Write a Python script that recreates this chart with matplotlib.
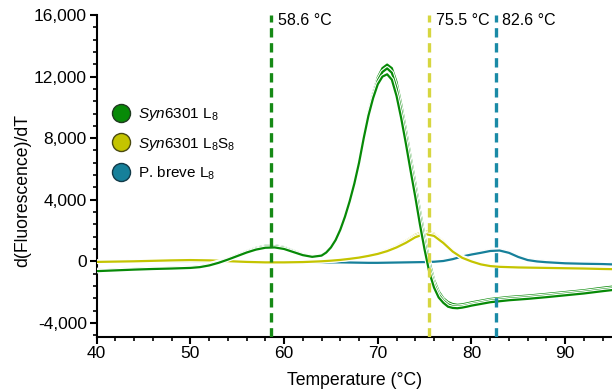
import matplotlib
matplotlib.use("Agg")
import matplotlib.pyplot as plt
import matplotlib.patheffects as pe
from matplotlib.lines import Line2D
from matplotlib.ticker import FuncFormatter, MultipleLocator

plt.rcParams['font.family'] = ['Liberation Sans', 'DejaVu Sans']
plt.rcParams['mathtext.fontset'] = 'custom'
plt.rcParams['mathtext.rm'] = 'Liberation Sans'
plt.rcParams['mathtext.it'] = 'Liberation Sans:italic'

# temperature grids (finer where the big L8 peak is)
temp_green = [40, 42, 44, 46, 48, 50, 51, 52, 53, 54, 55, 56, 57, 58, 59, 60, 61, 62, 63, 64,
              64.5, 65, 65.5, 66, 66.5, 67, 67.5, 68, 68.5, 69, 69.5, 70, 70.5, 71, 71.5, 72,
              72.5, 73, 73.5, 74, 74.5, 75, 75.5, 76, 76.5, 77, 77.5, 78, 78.5, 79, 79.5, 80,
              82, 84, 86, 88, 90, 92, 94, 95]
temp_other = [40, 42, 44, 46, 48, 50, 52, 54, 56, 58, 60, 62, 64, 65, 66, 67, 68, 69, 70, 71,
              72, 73, 74, 75, 76, 77, 78, 79, 80, 81, 82, 83, 84, 85, 86, 87, 88, 90, 92, 94, 95]

# Syn6301 L8, three replicates
l8_a = [-560, -520, -470, -430, -400, -360, -310, -200, -30, 180, 420, 660, 870, 1010, 1040,
        920, 700, 470, 340, 420,
        620, 950, 1450, 2100, 2950, 3950, 5100, 6500, 8200, 9700, 10950, 11950, 12550, 12780,
        12550, 11650, 10200, 8550, 6800, 5100, 3300, 1600, 0, -1200, -1950, -2400, -2650,
        -2780, -2830, -2800, -2740, -2670,
        -2450, -2320, -2230, -2120, -2000, -1880, -1720, -1650]
l8_b = [-600, -550, -500, -460, -430, -390, -340, -230, -60, 150, 390, 620, 820, 950, 980,
        870, 660, 440, 320, 400,
        600, 930, 1420, 2080, 2930, 3930, 5080, 6450, 8100, 9600, 10800, 11750, 12300, 12530,
        12250, 11250, 9800, 8150, 6400, 4700, 2900, 1200, -350, -1450, -2150, -2550, -2800,
        -2920, -2950, -2920, -2860, -2790,
        -2560, -2430, -2340, -2230, -2110, -1990, -1840, -1770]
l8_c = [-640, -590, -540, -500, -470, -430, -380, -270, -100, 110, 340, 570, 760, 880, 900,
        800, 600, 400, 290, 370,
        570, 900, 1380, 2050, 2900, 3900, 5050, 6400, 8000, 9450, 10600, 11500, 12000, 12150,
        11800, 10750, 9300, 7650, 5900, 4200, 2400, 750, -700, -1700, -2350, -2700, -2950,
        -3030, -3050, -3010, -2950, -2880,
        -2660, -2530, -2440, -2330, -2210, -2090, -1940, -1870]

# Syn6301 L8S8, three replicates
l8s8_a = [-20, 0, 20, 50, 80, 100, 80, 30, -20, -50, -50, -30, 20, 60, 110, 180, 270, 390,
          540, 740, 1000, 1330, 1720, 1960, 1800, 1300, 700, 290, 50, -140, -250, -300, -320,
          -340, -350, -360, -370, -390, -410, -440, -450]
l8s8_b = [-30, -10, 10, 40, 70, 90, 70, 20, -30, -60, -60, -40, 10, 50, 100, 170, 260, 370,
          510, 700, 950, 1270, 1640, 1870, 1730, 1250, 670, 260, 20, -170, -280, -330, -350,
          -370, -380, -390, -400, -420, -440, -470, -480]
l8s8_c = [-40, -20, 0, 30, 60, 80, 60, 10, -40, -70, -70, -50, 0, 40, 90, 160, 240, 350,
          480, 660, 900, 1200, 1560, 1780, 1650, 1190, 630, 230, -10, -200, -310, -360, -380,
          -400, -410, -420, -430, -450, -470, -500, -510]

# P. breve L8, three replicates
pb_a = [-20, -10, 10, 30, 50, 60, 50, 20, -10, -40, -50, -40, -30, -30, -30, -40, -50, -60,
        -60, -50, -40, -30, -20, -10, 10, 70, 200, 370, 500, 610, 730, 760, 610, 340, 140,
        50, 0, -70, -100, -120, -130]
pb_b = [-40, -30, -10, 10, 30, 40, 30, 0, -30, -60, -70, -60, -50, -50, -50, -60, -70, -80,
        -80, -70, -60, -50, -40, -30, -10, 40, 170, 340, 470, 580, 700, 730, 580, 310, 110,
        20, -30, -100, -130, -150, -160]
pb_c = [-60, -50, -30, -10, 10, 20, 10, -20, -50, -80, -90, -80, -70, -70, -70, -80, -90,
        -100, -100, -90, -80, -70, -60, -50, -30, 20, 140, 310, 440, 550, 670, 700, 550, 280,
        80, -10, -60, -130, -160, -180, -200]

tm_values = [58.6, 75.5, 82.6]
tm_labels = ['58.6 °C', '75.5 °C', '82.6 °C']

green = '#078a07'
yellow = '#c4c400'
blue = '#16809a'
tm_colors = ['#168a16', '#d6d640', '#1a8aa6']

fig = plt.figure(figsize=(6.12, 3.89), dpi=100)
ax = fig.add_axes([0.158, 0.1344, 0.842, 0.8270])

outline = [pe.Stroke(linewidth=3.2, foreground='white'), pe.Normal()]
for ys in (pb_a, pb_b, pb_c):
    ax.plot(temp_other, ys, color=blue, lw=1.6, path_effects=outline, zorder=2)
for ys in (l8s8_a, l8s8_b, l8s8_c):
    ax.plot(temp_other, ys, color=yellow, lw=1.6, path_effects=outline, zorder=3)
for ys in (l8_a, l8_b, l8_c):
    ax.plot(temp_green, ys, color=green, lw=1.6, path_effects=outline, zorder=4)

for t, lab, c in zip(tm_values, tm_labels, tm_colors):
    ax.axvline(t, color=c, lw=2.4, dashes=(2.8, 1.7), zorder=5)
    ax.text(t + 0.7, 15650, lab, fontsize=11.5, va='center', ha='left')

ax.set_xlim(40, 95)
ax.set_ylim(-4900, 16000)
ax.xaxis.set_major_locator(MultipleLocator(10))
ax.xaxis.set_minor_locator(MultipleLocator(2))
ax.yaxis.set_major_locator(MultipleLocator(4000))
ax.yaxis.set_minor_locator(MultipleLocator(800))
ax.yaxis.set_major_formatter(FuncFormatter(lambda v, p: f"{int(v):,}"))

for side in ('top', 'right'):
    ax.spines[side].set_visible(False)
for side in ('left', 'bottom'):
    ax.spines[side].set_linewidth(1.5)
ax.tick_params(which='major', length=5, width=1.5, labelsize=12.5, pad=2)
ax.tick_params(which='minor', length=3, width=1.2)

ax.set_xlabel('Temperature (°C)', fontsize=12.7)
ax.set_ylabel('d(Fluorescence)/dT', fontsize=12.7)
ax.xaxis.set_label_coords(0.5, -0.11)
ax.yaxis.set_label_coords(-0.127, 0.453)

handles = [
    Line2D([], [], ls='none', marker='o', ms=13, mfc=green, mec='#1f3a1f', mew=1),
    Line2D([], [], ls='none', marker='o', ms=13, mfc=yellow, mec='#4a4a10', mew=1),
    Line2D([], [], ls='none', marker='o', ms=13, mfc=blue, mec='#123a48', mew=1),
]
labels = [r'$\mathit{Syn}$6301 L$_8$', r'$\mathit{Syn}$6301 L$_8$S$_8$', r'P. breve L$_8$']
ax.legend(handles, labels, loc='upper left', bbox_to_anchor=(0.014, 0.735),
          frameon=False, fontsize=11, handletextpad=0.3, labelspacing=0.8,
          handlelength=1.5, borderaxespad=0)

fig.savefig('out.png', dpi=100)
